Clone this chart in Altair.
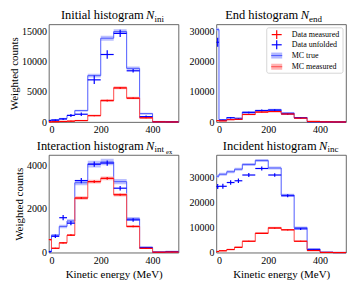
import altair as alt
import pandas as pd

# Bin edges (MeV)
edges = [0, 10, 40, 70, 100, 150, 200, 250, 300, 350, 400, 450, 500]

# Initial histogram
ini_true = [300, 400, 600, 1100, 1900, 7700, 13900, 15000, 8900, 1400, 100, 50]
ini_true_err = [50, 60, 80, 100, 150, 300, 400, 400, 300, 150, 20, 20]
ini_meas = [30, 60, 100, 150, 250, 1100, 3600, 5700, 4000, 700, 40, 20]
ini_meas_err = [20, 30, 40, 50, 60, 100, 200, 250, 200, 80, 20, 10]
ini_unf = [250, 300, 500, 1100, 1300, 7000, 11200, 14700, 8500, 900, 50, 30]
ini_unf_err = [100, 120, 150, 250, 300, 700, 700, 600, 300, 200, 30, 20]
ini_dmeas = [30, 60, 100, 150, 250, 1050, 3550, 5650, 3950, 700, 40, 20]
ini_dmeas_err = [20, 30, 40, 50, 60, 100, 150, 150, 120, 60, 20, 10]

# End histogram
end_true = [30500, 800, 1500, 1300, 3300, 3800, 4100, 3000, 1500, 200, 50, 30]
end_true_err = [600, 100, 150, 150, 250, 250, 250, 200, 150, 50, 20, 10]
end_meas = [500, 400, 800, 900, 2500, 3300, 3500, 2700, 1300, 200, 60, 30]
end_meas_err = [60, 60, 80, 80, 150, 150, 150, 120, 100, 40, 20, 10]
end_unf = [26300, 600, 1400, 1000, 3100, 3800, 3900, 2700, 1400, 100, 50, 30]
end_unf_err = [1500, 200, 250, 250, 300, 300, 300, 250, 200, 60, 20, 10]
end_dmeas = [450, 400, 800, 900, 2500, 3300, 3450, 2650, 1300, 200, 60, 30]
end_dmeas_err = [60, 60, 80, 80, 120, 120, 120, 100, 80, 40, 20, 10]

# Interaction histogram
int_true = [50, 800, 1200, 1450, 3200, 4050, 4150, 3250, 1550, 250, 30, 60]
int_true_err = [20, 60, 80, 80, 120, 150, 150, 120, 80, 30, 10, 10]
int_meas = [600, 200, 450, 800, 2500, 3250, 3400, 2650, 1200, 200, 20, 30]
int_meas_err = [40, 20, 30, 40, 80, 90, 90, 80, 60, 20, 10, 10]
int_unf = [50, 750, 1600, 1350, 3300, 4050, 4100, 2950, 1500, 230, 20, 40]
int_unf_err = [40, 80, 120, 100, 120, 120, 120, 100, 80, 30, 10, 10]
int_dmeas = [600, 200, 450, 800, 2500, 3250, 3400, 2650, 1200, 200, 20, 30]
int_dmeas_err = [30, 20, 30, 40, 50, 60, 60, 50, 40, 20, 10, 10]

# Incident histogram
inc_true = [30500, 31300, 32300, 33300, 35200, 36800, 33800, 23000, 10000, 1500, 200, 100]
inc_true_err = [600, 600, 600, 600, 600, 600, 600, 500, 400, 100, 30, 20]
inc_meas = [500, 800, 1300, 2200, 4500, 7800, 10000, 9200, 4500, 900, 100, 50]
inc_meas_err = [60, 80, 100, 120, 200, 250, 300, 250, 200, 60, 20, 10]
inc_unf = [26400, 26500, 28000, 28700, 31000, 33600, 31000, 22700, 9500, 1200, 100, 50]
inc_unf_err = [1000, 1000, 900, 900, 800, 800, 700, 600, 400, 100, 30, 20]
inc_dmeas = [450, 750, 1250, 2100, 4600, 7700, 9800, 9100, 4600, 850, 100, 50]
inc_dmeas_err = [60, 80, 100, 120, 150, 200, 200, 200, 150, 60, 20, 10]

legend_labels = ["Data measured", "Data unfolded", "MC true", "MC measured"]

SERIF = "Liberation Serif"
BLUE_LINE = "#4f5bff"
BLUE_BAND = "#aab0ff"
BLUE_DATA = "#0000ff"
RED_LINE = "#ff4a4a"
RED_BAND = "#ffaaaa"
RED_DATA = "#ff0000"

W, H = 130, 98


def panel(true, terr, meas, merr, unf, uerr, dm, dmerr, ymax, yticks,
          title_main, title_sub, nx, left, bottom, legend=False):
    lo = edges[:-1]
    hi = edges[1:]
    bins = pd.DataFrame({
        "lo": lo, "hi": hi, "c": [(a + b) / 2 for a, b in zip(lo, hi)],
        "unf": unf, "unf_lo": [v - e for v, e in zip(unf, uerr)],
        "unf_hi": [v + e for v, e in zip(unf, uerr)],
        "dm": dm, "dm_lo": [v - e for v, e in zip(dm, dmerr)],
        "dm_hi": [v + e for v, e in zip(dm, dmerr)],
    })
    t = true + [true[-1]]
    te = terr + [terr[-1]]
    m = meas + [meas[-1]]
    me = merr + [merr[-1]]
    step = pd.DataFrame({
        "x": edges, "true": t,
        "true_lo": [v - e for v, e in zip(t, te)],
        "true_hi": [v + e for v, e in zip(t, te)],
        "meas": m,
        "meas_lo": [v - e for v, e in zip(m, me)],
        "meas_hi": [v + e for v, e in zip(m, me)],
    })
    xs = alt.Scale(domain=[0, 500], nice=False, zero=False)
    ys = alt.Scale(domain=[0, ymax], nice=False, zero=False)
    common = dict(labelFont=SERIF, titleFont=SERIF, labelFontSize=10,
                  titleFontWeight="normal", labelColor="black", titleColor="black",
                  grid=False, domain=False, ticks=False, labelPadding=2.5,
                  format="d")
    xax = alt.Axis(values=[0, 200, 400], title="Kinetic energy (MeV)" if bottom else None,
                   titleFontSize=11, titlePadding=3, **common)
    yax = alt.Axis(values=yticks, title="Weighted counts" if left else None,
                   titleFontSize=11, titlePadding=1.5, **common)

    def X(f):
        return alt.X(f, type="quantitative", scale=xs, axis=xax)

    def Y(f):
        return alt.Y(f, type="quantitative", scale=ys, axis=yax)

    sc = alt.Chart(step)
    bc = alt.Chart(bins)
    layers = [
        sc.mark_area(interpolate="step-after", color=BLUE_BAND, opacity=0.8).encode(
            x=X("x"), y=Y("true_lo"), y2="true_hi"),
        sc.mark_line(interpolate="step-after", color=BLUE_LINE, strokeWidth=1).encode(
            x=X("x"), y=Y("true")),
        sc.mark_area(interpolate="step-after", color=RED_BAND, opacity=0.8).encode(
            x=X("x"), y=Y("meas_lo"), y2="meas_hi"),
        sc.mark_line(interpolate="step-after", color=RED_LINE, strokeWidth=1).encode(
            x=X("x"), y=Y("meas")),
        bc.mark_rule(color=BLUE_DATA, strokeWidth=1.2).encode(x=X("lo"), x2="hi", y=Y("unf")),
        bc.mark_rule(color=BLUE_DATA, strokeWidth=1.2).encode(x=X("c"), y=Y("unf_lo"), y2="unf_hi"),
        bc.mark_rule(color=RED_DATA, strokeWidth=1.2).encode(x=X("lo"), x2="hi", y=Y("dm")),
        bc.mark_rule(color=RED_DATA, strokeWidth=1.2).encode(x=X("c"), y=Y("dm_lo"), y2="dm_hi"),
    ]
    one = alt.Chart(pd.DataFrame({"a": [0]}))
    layers += [
        one.mark_text(text=title_main, font=SERIF, fontSize=12.5, align="right",
                      baseline="alphabetic", color="black").encode(
            x=alt.value(nx - 2.5), y=alt.value(-5)),
        one.mark_text(text="N", font=SERIF, fontSize=12.5, fontStyle="italic", align="left",
                      baseline="alphabetic", color="black").encode(
            x=alt.value(nx), y=alt.value(-5)),
        one.mark_text(text=title_sub[0], font=SERIF, fontSize=9, align="left",
                      baseline="alphabetic", color="black").encode(
            x=alt.value(nx + 8.5), y=alt.value(-2.5)),
    ]
    if len(title_sub) > 1:
        layers.append(one.mark_text(text=title_sub[1], font=SERIF, fontSize=6.5, align="left",
                                    baseline="alphabetic", color="black").encode(
            x=alt.value(nx + 20), y=alt.value(-1)))
    if legend:
        lx0, lx1 = 50.5, 127
        layers.append(one.mark_rect(fill="white", stroke="#cccccc", strokeWidth=0.8,
                                    cornerRadius=2).encode(
            x=alt.value(lx0), x2=alt.value(lx1), y=alt.value(3.5), y2=alt.value(49)))
        sx = 60.5
        rows = [10.3, 20.5, 31.3, 42.5]
        for yy, col in [(rows[0], RED_DATA), (rows[1], BLUE_DATA)]:
            layers.append(one.mark_rule(color=col, strokeWidth=1.2).encode(
                x=alt.value(sx - 5), x2=alt.value(sx + 5), y=alt.value(yy)))
            layers.append(one.mark_rule(color=col, strokeWidth=1.2).encode(
                x=alt.value(sx), y=alt.value(yy - 4.5), y2=alt.value(yy + 4.5)))
        for yy, band, line in [(rows[2], BLUE_BAND, BLUE_LINE), (rows[3], RED_BAND, RED_LINE)]:
            layers.append(one.mark_rect(fill=band, opacity=0.9).encode(
                x=alt.value(sx - 5.5), x2=alt.value(sx + 5.5), y=alt.value(yy - 3), y2=alt.value(yy + 3)))
            layers.append(one.mark_rule(color=line, strokeWidth=1).encode(
                x=alt.value(sx - 5.5), x2=alt.value(sx + 5.5), y=alt.value(yy)))
        for yy, lab in zip(rows, legend_labels):
            layers.append(one.mark_text(text=lab, font=SERIF, fontSize=8, align="left",
                                        baseline="middle", color="black").encode(
                x=alt.value(75.5), y=alt.value(yy)))
    return alt.layer(*layers).properties(width=W, height=H)


p1 = panel(ini_true, ini_true_err, ini_meas, ini_meas_err, ini_unf, ini_unf_err,
           ini_dmeas, ini_dmeas_err, 16200, [0, 5000, 10000, 15000],
           "Initial histogram", ["ini"], 97.5, True, False)
p2 = panel(end_true, end_true_err, end_meas, end_meas_err, end_unf, end_unf_err,
           end_dmeas, end_dmeas_err, 32200, [0, 10000, 20000, 30000],
           "End histogram", ["end"], 84.5, False, False, legend=True)
p3 = panel(int_true, int_true_err, int_meas, int_meas_err, int_unf, int_unf_err,
           int_dmeas, int_dmeas_err, 4470, [0, 2000, 4000],
           "Interaction histogram", ["int", "ex"], 97.5, True, True)
p4 = panel(inc_true, inc_true_err, inc_meas, inc_meas_err, inc_unf, inc_unf_err,
           inc_dmeas, inc_dmeas_err, 39000, [0, 10000, 20000, 30000],
           "Incident histogram", ["inc"], 103, False, True)

chart = alt.concat(p1, p2, p3, p4, columns=2, spacing={"row": 33, "column": 38},
                   bounds="flush").properties(
    padding={"left": 0, "top": 0, "right": 0, "bottom": 0}
).configure(font=SERIF).configure_view(stroke="#444444", strokeWidth=0.8)

chart.save("out.html", embed_options={"renderer": "svg", "actions": False})
